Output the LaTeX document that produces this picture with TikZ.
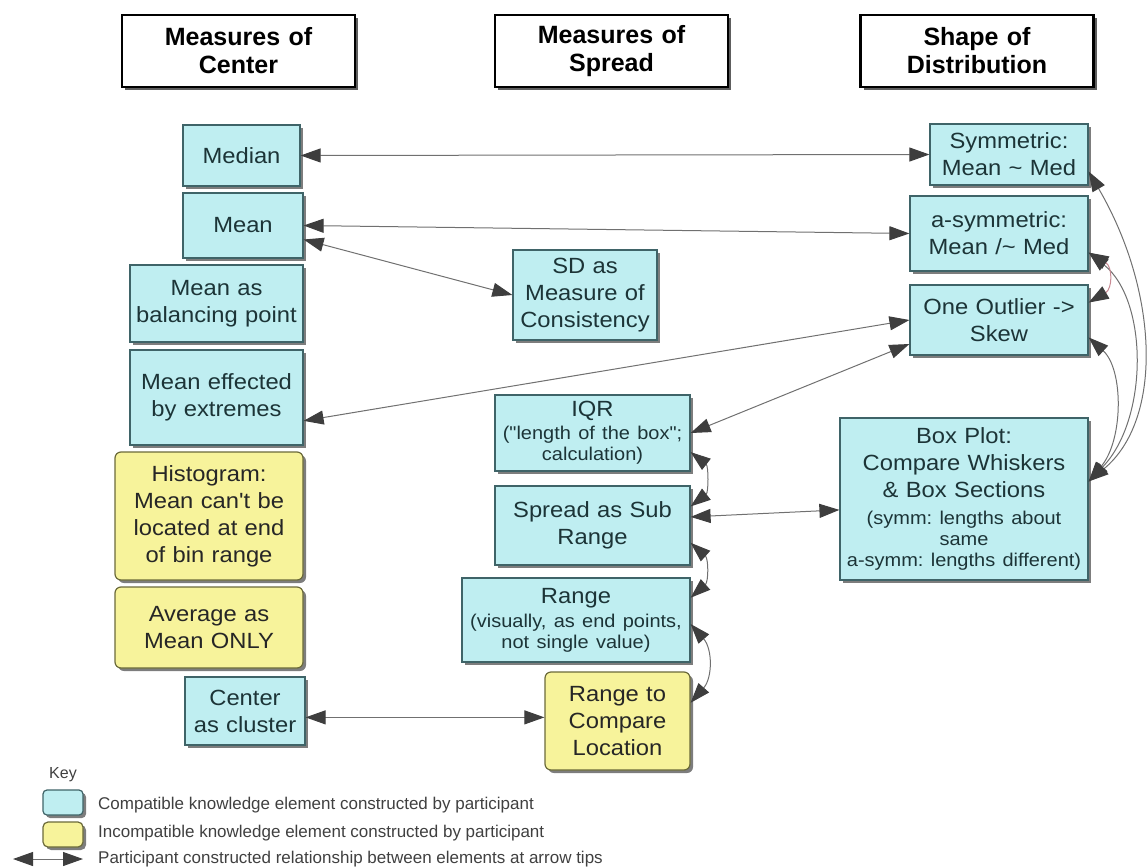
\documentclass[tikz,border=0pt]{standalone}
\usepackage{fontspec}
\setmainfont{Liberation Sans}
\newfontfamily\boxfont{Liberation Sans}[FakeStretch=1.08]
\frenchspacing
\usetikzlibrary{arrows.meta,shadows,calc}
\definecolor{cyanfill}{HTML}{BFEEF1}
\definecolor{cyanedge}{HTML}{3F6468}
\definecolor{yelfill}{HTML}{F7F39B}
\definecolor{yeledge}{HTML}{6B6A3A}
\definecolor{txtc}{HTML}{1C3437}
\definecolor{linec}{HTML}{707070}
\definecolor{tipc}{HTML}{3E3E3E}
\definecolor{pinkc}{HTML}{C98A94}
\newcommand\smf{\fontsize{18.5}{21}\selectfont}
\begin{document}
\begin{tikzpicture}[x=1pt,y=-1pt,
  >={Triangle[length=20pt,width=14pt,color=tipc]},
  base/.style={draw, line width=1.2pt, align=center, inner sep=2pt, text=txtc,
    font=\boxfont\fontsize{22}{27}\selectfont,
    drop shadow={shadow xshift=3pt,shadow yshift=-3pt,fill=black!60,opacity=0.85}},
  cbox/.style={base, fill=cyanfill, draw=cyanedge},
  ybox/.style={base, fill=yelfill, draw=yeledge, rounded corners=6pt, text=black!85},
  hbox/.style={draw=black, line width=2.2pt, fill=white, align=center, inner sep=2pt,
    font=\bfseries\fontsize{25}{28}\selectfont, text width=229pt, minimum height=72pt,
    drop shadow={shadow xshift=3pt,shadow yshift=-3pt,fill=black!70,opacity=0.9}},
  link/.style={draw=linec, line width=1pt, <->},
  keytext/.style={anchor=west, font=\fontsize{17}{19}\selectfont, text=black!75, inner sep=0pt}
]
\useasboundingbox (0,0) rectangle (1148,867);

% headers
\node[hbox] (h1) at (238.5,51) {Measures of\\Center};
\node[hbox] (h2) at (611.5,51) {Measures of\\Spread};
\node[hbox] (h3) at (977,51) {Shape of\\Distribution};

% left column
\node[cbox, text width=113pt, minimum height=61pt] (median) at (241.5,155.5) {Median};
\node[cbox, text width=116pt, minimum height=65pt] (mean) at (243,225.5) {Mean};
\node[cbox, text width=169pt, minimum height=77pt] (bal) at (216.5,303.5) {Mean as\\balancing point};
\node[cbox, text width=169pt, minimum height=95pt] (eff) at (216.5,397.5) {Mean effected\\by extremes};
\node[ybox, text width=184pt, minimum height=128pt] (hist) at (209,516) {Histogram:\\Mean can't be\\located at end\\of bin range};
\node[ybox, text width=184pt, minimum height=81pt] (avg) at (209,627.5) {Average as\\Mean ONLY};
\node[cbox, text width=116pt, minimum height=68pt] (cluster) at (245,711) {Center\\as cluster};

% middle column
\node[cbox, text width=140pt, minimum height=90pt] (sd) at (585,295) {SD as\\Measure of\\Consistency};
\node[cbox, text width=191pt, minimum height=76pt] (iqr) at (592.5,433) {IQR\par\vspace{2pt}\smf("length of the box";\\calculation)\par};
\node[cbox, text width=191pt, minimum height=79pt] (spread) at (592.5,525.5) {Spread as Sub\\Range};
\node[cbox, text width=224pt, minimum height=84pt] (range) at (576,620) {Range\par\vspace{3pt}\smf(visually, as end points,\\not single value)\par};
\node[ybox, text width=141pt, minimum height=98pt] (rtc) at (617.5,721) {Range to\\Compare\\Location};

% right column
\node[cbox, text width=154pt, minimum height=61pt] (sym) at (1009,154.5) {Symmetric:\\Mean \textasciitilde{} Med};
\node[cbox, text width=174pt, minimum height=75pt] (asym) at (999,233.5) {a-symmetric:\\Mean /\textasciitilde{} Med};
\node[cbox, text width=174pt, minimum height=70pt] (outl) at (999,320) {One Outlier ->\\Skew};
\node[cbox, text width=244pt, minimum height=162pt] (bp) at (964,499) {Box Plot:\\Compare Whiskers\\\& Box Sections\par\vspace{6pt}\smf(symm: lengths about\\same\\a-symm: lengths different)\par};

% straight links
\draw[link] (median.east) -- (sym.west);
\draw[link] (mean.east) -- (asym.west);
\draw[link] (mean.-13) -- (sd.west);
\draw[link] (eff.-15) -- (outl.west);
\draw[link] (iqr.east) -- (outl.-165);
\draw[link] (spread.5) -- (bp.-175);
\draw[link] (cluster.-6) -- (cluster.-6 -| rtc.west);

% right curves
\draw[link] (sym.-12) .. controls +(70,120) and +(75,-62) .. (bp.8);
\draw[link] (asym.-12) .. controls +(60,48) and +(60,-62) .. (bp.8);
\draw[link] (outl.-11.5) .. controls +(35,32) and +(35,-42) .. (bp.8);
\draw[link, draw=pinkc] (asym.-12) .. controls +(24,14) and +(24,-14) .. (outl.11.5);

% middle curves
\draw[link] (iqr.-11) .. controls +(18,14) and +(18,-14) .. (spread.11);
\draw[link] (spread.-10) .. controls +(18,16) and +(18,-16) .. (range.11);
\draw[link] (range.-2) .. controls +(22,25) and +(22,-25) .. (rtc.14);

% key
\node[font=\fontsize{16}{18}\selectfont, text=black!75, inner sep=0pt] (keyt) at (63,775) {Key};
\node[cbox, minimum width=40pt, minimum height=25pt, rounded corners=4pt, inner sep=0pt] (kc) at (63,802.5) {};
\node[ybox, minimum width=40pt, minimum height=25pt, rounded corners=5pt, inner sep=0pt] (ky) at (63,834.5) {};
\node[keytext] (kct) at (98,805) {Compatible knowledge element constructed by participant};
\node[keytext] (kyt) at (98,833) {Incompatible knowledge element constructed by participant};
\coordinate (ka) at (13,859);
\coordinate (kb) at (83,859);
\draw[link] (ka) -- (kb);
\node[keytext] (kat) at (98,859) {Participant constructed relationship between elements at arrow tips};
\end{tikzpicture}
\end{document}
